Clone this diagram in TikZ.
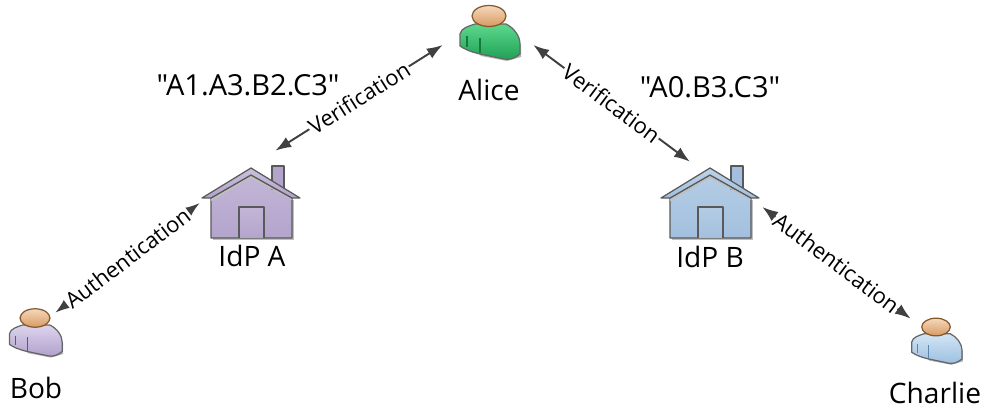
\documentclass[tikz,border=0pt]{standalone}
\usepackage{fontspec}
\setmainfont{Open Sans}
\newfontfamily\chainfont{Open Sans}
\usetikzlibrary{arrows.meta}
\definecolor{idpapurple}{HTML}{B3A4CC}
\definecolor{idpbblue}{HTML}{A2C0DE}
\definecolor{linkgray}{HTML}{404040}
\definecolor{alicetop}{HTML}{5CD88C}
\definecolor{alicebottom}{HTML}{1FA055}
\definecolor{alicefold}{HTML}{157A40}
\definecolor{bobtop}{HTML}{DDD4EC}
\definecolor{bobbottom}{HTML}{B0A0CC}
\definecolor{bobfold}{HTML}{6A4C96}
\definecolor{charlietop}{HTML}{D2E4F4}
\definecolor{charliebottom}{HTML}{9CC0E0}
\definecolor{charliefold}{HTML}{5A86B0}
\definecolor{headtop}{HTML}{F4D8BC}
\definecolor{headbottom}{HTML}{D89A62}
\tikzset{
  iconline/.style={draw=black!65, line width=0.7pt, line join=round},
  link/.style={{Latex[length=9pt,width=6.5pt]}-{Latex[length=9pt,width=6.5pt]}, draw=linkgray, line width=1.1pt},
  linklabel/.style={midway, sloped, fill=white, inner sep=0.6pt, font=\fontsize{12.5}{13}\selectfont},
  namelabel/.style={font=\fontsize{16}{18}\selectfont, inner sep=0pt},
  chainlabel/.style={font=\fontsize{16.5}{18}\selectfont\chainfont, inner sep=0pt},
  anchorbox/.style={rectangle, inner sep=0pt},
  % person icon, origin in the middle of the head
  pics/person/.style n args={3}{code={
    \path[fill=black!30] (-28,19) -- (-15,11) -- (18,11) -- (32,29) -- (32,41) -- (18,45) -- (-8,40) -- cycle;
    \draw[iconline, draw=black!60, top color=#1, bottom color=#2]
      (-29,18) .. controls (-28,12) and (-20,10) .. (-14,8)
      -- (17,8) .. controls (25,12) and (31,20) .. (31,28)
      -- (31,38) .. controls (25,43) and (20,44) .. (15,43)
      -- (-9,38) .. controls (-18,36) and (-25,33) .. (-29,30) -- cycle;
    \draw[draw=#3, line width=0.6pt] (-22,20) -- (-22,31) (-9,22) -- (-9,37);
    \draw[iconline, draw=brown!70!black, top color=headtop, bottom color=headbottom]
      (0,0) ellipse (17 and 10.5);
  }},
  % house icon, origin in the middle of the house
  pics/house/.style={code={
    \path[fill=black!25] (-38,-3) rectangle (43,37);
    \draw[iconline, top color=#1!80!white, bottom color=#1] (-40,-5) -- (0,-28) -- (41,-5) -- (41,35) -- (-40,35) -- cycle;
    \draw[iconline, top color=#1!80!white, bottom color=#1] (-12,35) -- (-12,4) -- (13,4) -- (13,35);
    \draw[iconline, fill=#1] (21,-37) rectangle (33,-14);
    \path[fill=black!25] (-40,-4) -- (0,-27) -- (41,-4) -- (41,-3) -- (0,-25) -- (-40,-2) -- cycle;
    \draw[iconline, top color=#1!70!white, bottom color=#1] (-49,-5) -- (0,-35) -- (49,-5) -- (41,-5) -- (0,-28) -- (-40,-5) -- cycle;
  }},
}
\begin{document}
\begin{tikzpicture}[x=0.02cm, y=-0.02cm]
    \useasboundingbox (0,0) rectangle (982,408);
    % Draw icons
    \pic at (489,16) {person={alicetop}{alicebottom}{alicefold}};
    \pic[scale=0.88] at (35,318) {person={bobtop}{bobbottom}{bobfold}};
    \pic[scale=0.84] at (936,327) {person={charlietop}{charliebottom}{charliefold}};
    \pic at (251,203) {house=idpapurple};
    \pic at (710,203) {house=idpbblue};
    % Boxes the connectors end on
    \node[anchorbox, minimum width=1.8cm, minimum height=1.2cm] (alice) at (488,45) {};
    \node[anchorbox, minimum width=2.04cm, minimum height=2.08cm] (idpa) at (251,203) {};
    \node[anchorbox, minimum width=2.08cm, minimum height=1.8cm] (idpb) at (710,207) {};
    \node[anchorbox, minimum width=0.8cm, minimum height=0.8cm] (bob) at (35,333) {};
    \node[anchorbox, minimum width=1.04cm, minimum height=1.04cm] (charlie) at (937,345) {};
    % Draw names
    \node[namelabel] (alicename) at (489,90) {Alice};
    \node[namelabel] (idpaname) at (252,256) {IdP A};
    \node[namelabel] (idpbname) at (710,257) {IdP B};
    \node[namelabel] (bobname) at (36,388) {Bob};
    \node[namelabel] (charliename) at (935,393) {Charlie};
    % Draw credential strings
    \node[chainlabel] (chaina) at (248,85) {"A1.A3.B2.C3"};
    \node[chainlabel] (chainb) at (710,87) {"A0.B3.C3"};
    % Draw links
    \draw[link] (alice.west) -- (idpa.65) node[linklabel] {Verification};
    \draw[link] (alice.east) -- (idpb.114) node[linklabel] {Verification};
    \draw[link] (idpa.west) -- (bob.north east) node[linklabel] {Authentication};
    \draw[link] (idpb.east) -- (charlie.north west) node[linklabel] {Authentication};
\end{tikzpicture}
\end{document}
